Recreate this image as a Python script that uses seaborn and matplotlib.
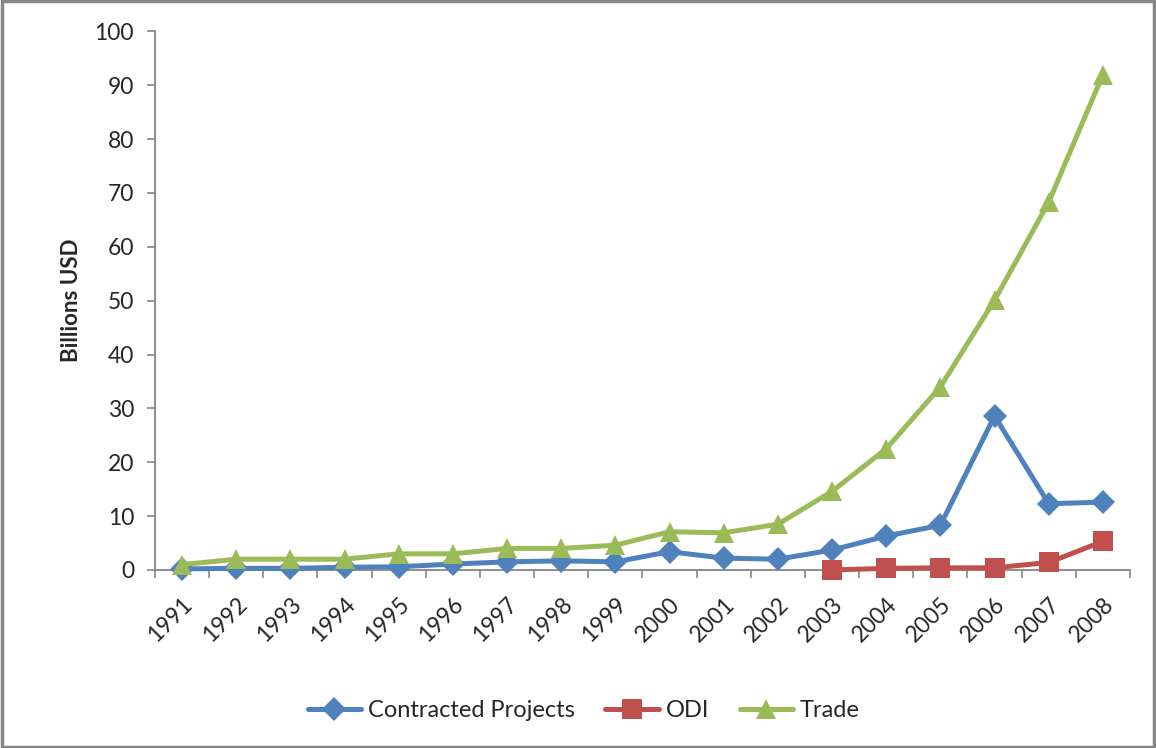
import matplotlib
matplotlib.use("Agg")
import matplotlib.pyplot as plt
import seaborn as sns
import pandas as pd
import numpy as np
from matplotlib.patches import Rectangle

years = list(range(1991, 2009))
contracted = [0.2, 0.3, 0.3, 0.5, 0.6, 1.1, 1.5, 1.7, 1.5, 3.4, 2.2, 2.0, 3.7, 6.3, 8.3, 28.6, 12.3, 12.6]
odi = [np.nan] * 12 + [0.0, 0.3, 0.4, 0.4, 1.4, 5.3]
trade = [1.0, 2.0, 2.0, 2.0, 3.0, 3.0, 4.0, 4.0, 4.6, 7.1, 6.9, 8.5, 14.6, 22.5, 34.0, 50.1, 68.3, 92.0]
series_names = ["Contracted Projects", "ODI", "Trade"]
colors = ["#4F81BD", "#C0504D", "#9BBB59"]
markers = ["D", "s", "^"]
msizes = [12.5, 15, 14.5]

df = pd.DataFrame({"Year": years * 3,
                   "Value": contracted + odi + trade,
                   "Series": [s for s in series_names for _ in years]})

sns.set_style("white")
plt.rcParams["font.family"] = ["Lato", "DejaVu Sans"]

fig = plt.figure(figsize=(11.56, 7.48), dpi=100)
ax = fig.add_axes([0.134, 0.238, 0.9775 - 0.134, 0.958 - 0.238])

for name, c, m, ms in zip(series_names, colors, markers, msizes):
    sub = df[df["Series"] == name].dropna()
    sns.lineplot(data=sub, x="Year", y="Value", ax=ax, color=c, marker=m,
                 markersize=ms, markeredgewidth=0, linewidth=3.6, label=name,
                 legend=False, clip_on=False, zorder=3)

ax.set_xlim(1990.5, 2008.5)
ax.set_ylim(0, 100)
ax.set_yticks(range(0, 101, 10))
ax.set_xticks(years)
ax.set_xticklabels([str(y) for y in years], rotation=45, ha="right",
                   rotation_mode="anchor")
ax.set_xticks(np.arange(1990.5, 2009, 1), minor=True)
ax.tick_params(axis="x", which="major", length=0, pad=17, labelsize=16.5)
ax.tick_params(axis="x", which="minor", length=6, width=1.2, color="#868686",
               direction="out", bottom=True)
ax.tick_params(axis="y", length=6, width=1.2, color="#868686", direction="out",
               left=True, labelsize=16.5, pad=9)
ax.set_xlabel("")
ax.set_ylabel("Billions USD", fontsize=16, fontweight="bold", labelpad=9)
for s in ["top", "right"]:
    ax.spines[s].set_visible(False)
for s in ["left", "bottom"]:
    ax.spines[s].set_color("#868686")
    ax.spines[s].set_linewidth(1.3)

handles, labels = ax.get_legend_handles_labels()
fig.legend(handles, labels, loc="center", bbox_to_anchor=(0.505, 0.05),
           ncol=3, frameon=False, fontsize=17, handlelength=2.25,
           handletextpad=0.3, columnspacing=1.3)

fig.add_artist(Rectangle((0.002, 0.002), 0.996, 0.996, transform=fig.transFigure,
                         fill=False, edgecolor="#868686", linewidth=2.5))

fig.savefig("out.png", dpi=100)
